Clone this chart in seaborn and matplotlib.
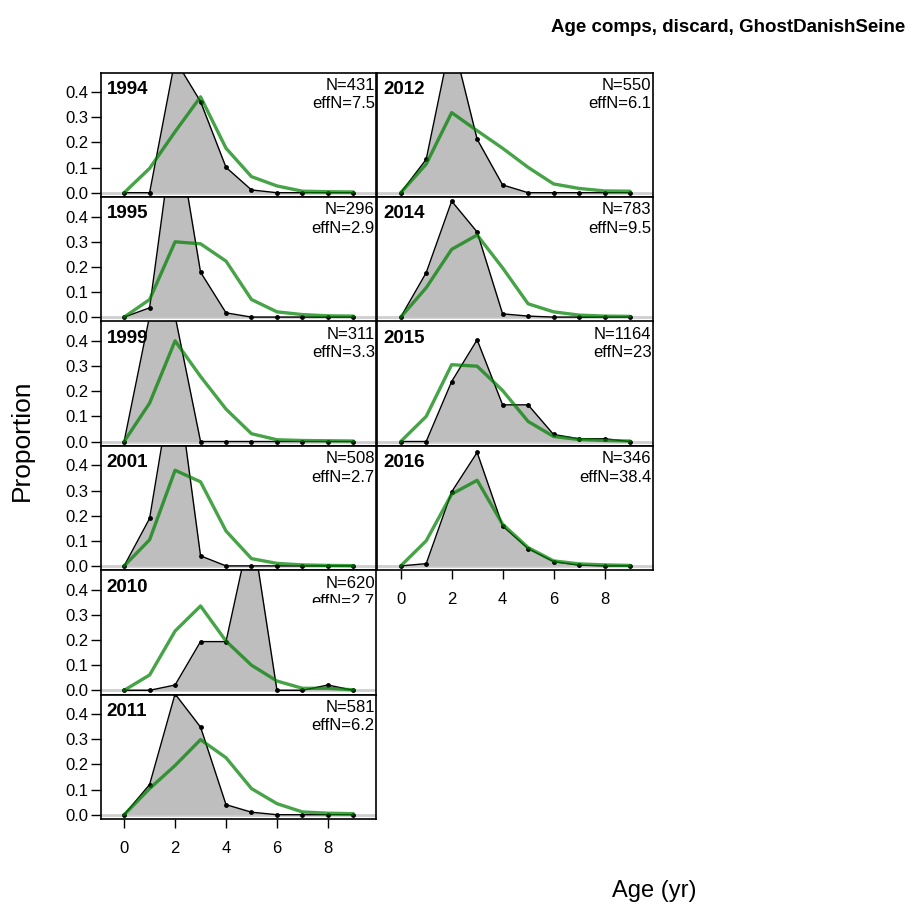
import matplotlib
matplotlib.use("Agg")
import matplotlib.pyplot as plt
import seaborn as sns
import pandas as pd
from matplotlib.transforms import Bbox, TransformedBbox

sns.set_style("ticks")
plt.rcParams["font.family"] = ["Liberation Sans", "DejaVu Sans"]
plt.rcParams["text.color"] = "black"
plt.rcParams["xtick.color"] = "black"
plt.rcParams["ytick.color"] = "black"
plt.rcParams["xtick.labelcolor"] = "black"
plt.rcParams["ytick.labelcolor"] = "black"

# ---------------- data ----------------
ages = [0, 1, 2, 3, 4, 5, 6, 7, 8, 9]
years = ["1994", "1995", "1999", "2001", "2010", "2011", "2012", "2014", "2015", "2016"]
n_samp = ["431", "296", "311", "508", "620", "581", "550", "783", "1164", "346"]
eff_n = ["7.5", "2.9", "3.3", "2.7", "2.7", "6.2", "6.1", "9.5", "23", "38.4"]

obs_1994 = [0, 0, 0.53, 0.363, 0.101, 0.011, 0, 0, 0, 0]
obs_1995 = [0, 0.037, 0.79, 0.179, 0.017, 0, 0, 0, 0, 0]
obs_1999 = [0, 0.50, 0.50, 0, 0, 0, 0, 0, 0, 0]
obs_2001 = [0, 0.189, 0.80, 0.04, 0, 0, 0, 0, 0, 0]
obs_2010 = [0, 0, 0.021, 0.194, 0.194, 0.66, 0, 0, 0.021, 0]
obs_2011 = [0, 0.12, 0.481, 0.349, 0.04, 0.01, 0, 0, 0, 0]
obs_2012 = [0, 0.133, 0.623, 0.213, 0.031, 0, 0, 0, 0, 0]
obs_2014 = [0, 0.177, 0.462, 0.339, 0.013, 0.004, 0, 0, 0, 0]
obs_2015 = [0, 0, 0.239, 0.405, 0.146, 0.146, 0.028, 0.011, 0.011, 0]
obs_2016 = [0, 0.009, 0.295, 0.452, 0.159, 0.069, 0.017, 0.003, 0, 0]

exp_1994 = [0, 0.097, 0.243, 0.382, 0.177, 0.064, 0.027, 0.006, 0.004, 0.003]
exp_1995 = [0, 0.07, 0.30, 0.292, 0.223, 0.07, 0.021, 0.01, 0.005, 0.004]
exp_1999 = [0, 0.153, 0.401, 0.259, 0.129, 0.031, 0.007, 0.004, 0.003, 0.002]
exp_2001 = [0, 0.104, 0.381, 0.335, 0.139, 0.029, 0.01, 0.004, 0.002, 0.001]
exp_2010 = [0, 0.061, 0.236, 0.336, 0.196, 0.10, 0.037, 0.008, 0.008, 0.002]
exp_2011 = [0, 0.104, 0.196, 0.299, 0.227, 0.104, 0.044, 0.011, 0.006, 0.004]
exp_2012 = [0, 0.114, 0.319, 0.247, 0.177, 0.101, 0.035, 0.017, 0.007, 0.006]
exp_2014 = [0, 0.117, 0.27, 0.327, 0.196, 0.053, 0.021, 0.008, 0.004, 0.003]
exp_2015 = [0, 0.10, 0.306, 0.30, 0.203, 0.08, 0.02, 0.008, 0.004, 0.002]
exp_2016 = [0, 0.10, 0.286, 0.341, 0.166, 0.073, 0.02, 0.008, 0.004, 0.002]

obs_all = [obs_1994, obs_1995, obs_1999, obs_2001, obs_2010, obs_2011,
           obs_2012, obs_2014, obs_2015, obs_2016]
exp_all = [exp_1994, exp_1995, exp_1999, exp_2001, exp_2010, exp_2011,
           exp_2012, exp_2014, exp_2015, exp_2016]

yticks = [0.0, 0.1, 0.2, 0.3, 0.4]
ytick_labels = ["0.0", "0.1", "0.2", "0.3", "0.4"]
xticks = [0, 2, 4, 6, 8]
xtick_labels = ["0", "2", "4", "6", "8"]

# ---------------- layout ----------------
W, H = 912, 909
fig = plt.figure(figsize=(W / 100, H / 100), dpi=100)
col_left = [100.7, 377.3]
pan_w = 275.6
top0 = 72.7
pan_h = 124.4

fill_col = "#bebebe"
exp_col = (0.0, 0.5, 0.0, 0.72)

for i, yr in enumerate(years):
    if i < 6:
        c, r = 0, i
    else:
        c, r = 1, i - 6
    top_px = top0 + r * pan_h
    ax = fig.add_axes([col_left[c] / W, 1 - (top_px + pan_h) / H, pan_w / W, pan_h / H])
    df = pd.DataFrame({"age": ages, "obs": obs_all[i], "exp": exp_all[i]})

    ax.axhline(0, color="#cfcfcf", lw=2.0, zorder=1)
    ax.fill_between(df["age"], df["obs"], 0, color=fill_col, lw=0, zorder=2)
    sns.lineplot(data=df, x="age", y="obs", color="black", lw=1.0, marker="o",
                 markersize=3.5, markeredgewidth=0, ax=ax, zorder=3)
    sns.lineplot(data=df, x="age", y="exp", color=exp_col, lw=2.4, ax=ax, zorder=4)

    ax.set_xlim(-0.92, 9.9)
    ax.set_ylim(-0.0175, 0.478)
    ax.set_xlabel("")
    ax.set_ylabel("")
    for s in ax.spines.values():
        s.set_color("black")
        s.set_linewidth(1.2)

    if c == 0:
        ax.set_yticks(yticks)
        ax.set_yticklabels(ytick_labels)
        ax.tick_params(axis="y", direction="out", length=7, width=1, labelsize=12,
                       pad=2, colors="black")
    else:
        ax.set_yticks([])

    bottom_panel = (c == 0 and r == 5) or (c == 1 and r == 3)
    if bottom_panel:
        ax.set_xticks(xticks)
        ax.set_xticklabels(xtick_labels)
        ax.tick_params(axis="x", direction="out", length=6.5, width=1, labelsize=12,
                       pad=9, colors="black")
    else:
        ax.set_xticks([])

    # labels inside the panel
    ax.text(6 / pan_w, 1 - 21.3 / pan_h, yr, transform=ax.transAxes, ha="left",
            va="baseline", fontsize=13.5, fontweight="bold", color="black", zorder=6)
    ax.text(1 - 1.5 / pan_w, 1 - 17.3 / pan_h, "N=" + n_samp[i], transform=ax.transAxes,
            ha="right", va="baseline", fontsize=12, color="black", zorder=6)
    t = ax.text(1 - 1.5 / pan_w, 1 - 35.6 / pan_h, "effN=" + eff_n[i],
                transform=ax.transAxes, ha="right", va="baseline", fontsize=12,
                color="black", zorder=6)
    if yr == "2010":
        clip = TransformedBbox(Bbox([[0, 1 - 603 / H], [1, 1]]), fig.transFigure)
        t.set_clip_on(True)
        t.set_clip_box(clip)

fig.text(905 / W, 1 - 31.7 / H, "Age comps, discard, GhostDanishSeine", ha="right",
         va="baseline", fontsize=13.5, fontweight="bold", color="black")
fig.text(22 / W, 1 - 440 / H, "Proportion", rotation=90, ha="center", va="center",
         fontsize=19, color="black")
fig.text(654 / W, 1 - 897 / H, "Age (yr)", ha="center", va="baseline", fontsize=17,
         color="black")

fig.savefig("out.png", dpi=100, facecolor="white")
